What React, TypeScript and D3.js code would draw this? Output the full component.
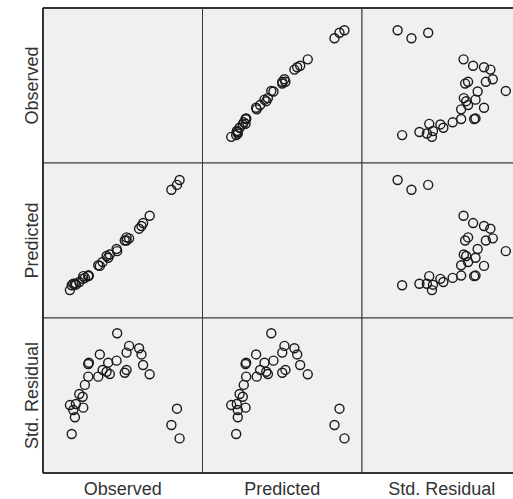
import React from 'react';
import * as d3 from 'd3';

const varNames = ['Observed', 'Predicted', 'Std. Residual'];

const observed = [
  47.2, 53.2, 58.2, 51.9, 59.4, 38.5, 46.9, 33.0, 32.7, 42.7, 60.2, 39.9, 41.9, 43.5, 51.9, 51.0,
  63.5, 32.7, 37.7, 31.0, 28.2, 29.9, 23.5, 26.5, 30.2, 25.2, 26.0, 24.4, 77.2, 74.4, 78.5,
];
const predicted = [
  44.5, 51.1, 56.1, 50.0, 57.5, 36.9, 45.6, 31.9, 31.6, 41.1, 59.0, 38.9, 42.0, 42.8, 51.6, 50.0,
  62.8, 31.9, 37.2, 30.7, 28.6, 30.2, 24.4, 27.2, 31.6, 27.7, 27.7, 26.9, 78.7, 76.2, 81.2,
];
const stdResidual = [
  1.71, 1.22, 1.13, 0.96, 0.89, 0.89, 0.65, 0.57, 0.52, 0.57, 0.48, 0.29, 0.22, 0.13, 0.29, 0.18,
  0.12, 0.03, 0.03, -0.29, -0.64, -0.75, -1.07, -1.03, -1.17, -1.26, -1.54, -2.19, -1.21, -1.84,
  -2.36,
];

// axis ranges used by the plot for each variable
const domains: [number, number][] = [
  [10, 90],
  [10, 90],
  [-3.7, 2.3],
];

const columns = [observed, predicted, stdResidual];

const App: React.FC = () => {
  const width = 513;
  const height = 499;
  const left = 43;
  const top = 8;
  const cellW = 159.5;
  const cellH = 155;
  const n = varNames.length;
  const font = 'Liberation Sans, Arial, Helvetica, sans-serif';

  const xScales = domains.map((d, i) =>
    d3.scaleLinear().domain(d).range([left + i * cellW, left + (i + 1) * cellW])
  );
  const yScales = domains.map((d, i) =>
    d3.scaleLinear().domain(d).range([top + (i + 1) * cellH, top + i * cellH])
  );

  const cells: JSX.Element[] = [];
  for (let r = 0; r < n; r++) {
    for (let c = 0; c < n; c++) {
      cells.push(
        <rect
          key={`bg-${r}-${c}`}
          x={left + c * cellW}
          y={top + r * cellH}
          width={cellW}
          height={cellH}
          fill="#f0f0f0"
          stroke="#3a3a3a"
          strokeWidth={1}
        />
      );
    }
  }

  const points: JSX.Element[] = [];
  for (let r = 0; r < n; r++) {
    for (let c = 0; c < n; c++) {
      if (r === c) continue;
      const xs = columns[c];
      const ys = columns[r];
      xs.forEach((v, k) => {
        points.push(
          <circle
            key={`p-${r}-${c}-${k}`}
            cx={xScales[c](v)}
            cy={yScales[r](ys[k])}
            r={4.5}
            fill="none"
            stroke="#1a1a1a"
            strokeWidth={1.4}
          />
        );
      });
    }
  }

  return (
    <svg
      width={width}
      height={height}
      style={{ position: 'absolute', left: 0, top: 0, background: '#fff' }}
    >
      {cells}
      {points}
      {/* outer frame */}
      <line x1={left} x2={left} y1={top} y2={top + n * cellH} stroke="#333" strokeWidth={2} />
      <line x1={left} x2={left + n * cellW} y1={top} y2={top} stroke="#333" strokeWidth={2} />
      <line
        x1={left}
        x2={left + n * cellW}
        y1={top + n * cellH}
        y2={top + n * cellH}
        stroke="#333"
        strokeWidth={2}
      />
      {varNames.map((name, i) => (
        <text
          key={`cl-${i}`}
          x={left + (i + 0.5) * cellW}
          y={495}
          textAnchor="middle"
          fontFamily={font}
          fontSize={18}
          fill="#333"
        >
          {name}
        </text>
      ))}
      {varNames.map((name, i) => (
        <text
          key={`rl-${i}`}
          transform={`translate(38,${top + (i + 0.5) * cellH}) rotate(-90)`}
          textAnchor="middle"
          fontFamily={font}
          fontSize={18}
          fill="#333"
        >
          {name}
        </text>
      ))}
    </svg>
  );
};

export default App;
